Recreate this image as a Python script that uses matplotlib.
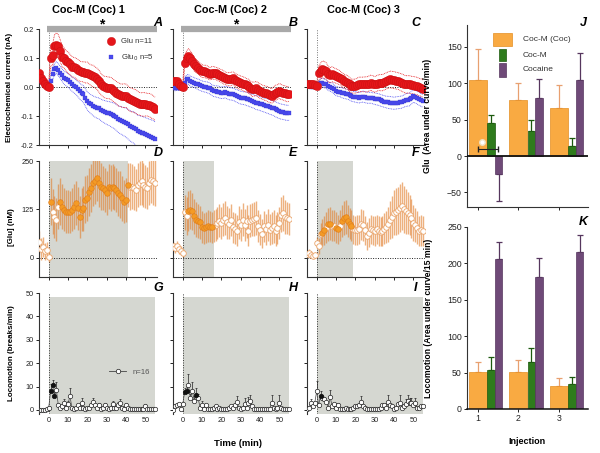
import numpy as np
import matplotlib
matplotlib.use('Agg')
import matplotlib.pyplot as plt
from matplotlib.patches import Rectangle
from matplotlib.lines import Line2D

plt.rcParams['font.family'] = ['Liberation Sans', 'DejaVu Sans']
plt.rcParams['axes.linewidth'] = 0.8
plt.rcParams['xtick.major.size'] = 2.2
plt.rcParams['ytick.major.size'] = 2.2
plt.rcParams['xtick.major.width'] = 0.7
plt.rcParams['ytick.major.width'] = 0.7

# ---------------- data ----------------
time = np.arange(-5, 56)

ec_titles = ['Coc-M (Coc) 1', 'Coc-M (Coc) 2', 'Coc-M (Coc) 3']

glu_A = [0.050, 0.032, 0.020, 0.012, 0.005,
         0.000, 0.100, 0.110, 0.140, 0.145, 0.140, 0.125, 0.105, 0.100, 0.090,
         0.085, 0.078, 0.070, 0.068, 0.065, 0.060, 0.055, 0.053, 0.052, 0.050,
         0.050, 0.045, 0.040, 0.038, 0.033, 0.028, 0.020, 0.010, 0.003, 0.000,
         -0.002, -0.003, -0.004, -0.010, -0.014, -0.020, -0.025, -0.028, -0.030, -0.030,
         -0.030, -0.037, -0.043, -0.045, -0.047, -0.050, -0.055, -0.058, -0.060, -0.060,
         -0.060, -0.061, -0.062, -0.066, -0.070, -0.075]
glu_A_err = [0.012, 0.010, 0.010, 0.010, 0.010,
             0.010, 0.030, 0.035, 0.040, 0.042, 0.040, 0.038, 0.036, 0.035, 0.035,
             0.036, 0.035, 0.035, 0.034, 0.035, 0.036, 0.035, 0.034, 0.035, 0.036,
             0.036, 0.035, 0.036, 0.037, 0.036, 0.037, 0.038, 0.037, 0.036, 0.037,
             0.038, 0.037, 0.038, 0.039, 0.038, 0.039, 0.040, 0.039, 0.040, 0.041,
             0.040, 0.041, 0.040, 0.041, 0.040, 0.041, 0.040, 0.039, 0.040, 0.041,
             0.040, 0.039, 0.040, 0.041, 0.040, 0.040]
glu0_A = [0.026, 0.020, 0.015, 0.010, 0.005,
          0.000, 0.020, 0.044, 0.061, 0.067, 0.060, 0.050, 0.040, 0.032, 0.027,
          0.023, 0.016, 0.010, 0.005, 0.000, -0.007, -0.014, -0.020, -0.025, -0.037,
          -0.048, -0.055, -0.060, -0.065, -0.069, -0.072, -0.074, -0.079, -0.083, -0.086,
          -0.089, -0.091, -0.094, -0.097, -0.100, -0.105, -0.111, -0.114, -0.117, -0.120,
          -0.123, -0.128, -0.134, -0.137, -0.140, -0.146, -0.152, -0.155, -0.157, -0.160,
          -0.163, -0.166, -0.169, -0.172, -0.175, -0.180]
glu0_A_err = [0.010, 0.010, 0.009, 0.008, 0.008,
              0.008, 0.015, 0.018, 0.020, 0.020, 0.021, 0.021, 0.022, 0.022, 0.023,
              0.023, 0.024, 0.024, 0.025, 0.025, 0.026, 0.027, 0.028, 0.029, 0.030,
              0.031, 0.032, 0.033, 0.034, 0.035, 0.036, 0.036, 0.037, 0.038, 0.039,
              0.040, 0.041, 0.042, 0.043, 0.044, 0.045, 0.046, 0.047, 0.048, 0.049,
              0.050, 0.051, 0.052, 0.053, 0.054, 0.055, 0.055, 0.056, 0.056, 0.057,
              0.057, 0.058, 0.058, 0.059, 0.059, 0.060]

glu_B = [0.020, 0.020, 0.020, 0.010, 0.003,
         0.000, 0.084, 0.100, 0.107, 0.100, 0.090, 0.078, 0.072, 0.067, 0.060,
         0.055, 0.054, 0.053, 0.050, 0.046, 0.048, 0.049, 0.047, 0.044, 0.041,
         0.038, 0.034, 0.030, 0.028, 0.026, 0.028, 0.030, 0.025, 0.020, 0.017,
         0.015, 0.012, 0.009, 0.006, 0.003, -0.003, -0.008, -0.007, -0.005, -0.010,
         -0.014, -0.017, -0.020, -0.022, -0.025, -0.028, -0.031, -0.025, -0.020, -0.017,
         -0.014, -0.017, -0.020, -0.022, -0.025, -0.023]
glu_B_err = [0.010, 0.010, 0.010, 0.010, 0.010,
             0.010, 0.020, 0.024, 0.025, 0.025, 0.024, 0.023, 0.022, 0.022, 0.022,
             0.022, 0.021, 0.022, 0.022, 0.021, 0.022, 0.022, 0.021, 0.022, 0.022,
             0.022, 0.023, 0.022, 0.022, 0.023, 0.023, 0.022, 0.023, 0.023, 0.024,
             0.023, 0.024, 0.024, 0.023, 0.024, 0.024, 0.025, 0.024, 0.024, 0.025,
             0.025, 0.024, 0.025, 0.025, 0.026, 0.025, 0.025, 0.026, 0.026, 0.025,
             0.026, 0.026, 0.025, 0.026, 0.026, 0.026]
glu0_B = [-0.005, -0.005, -0.004, -0.004, -0.004,
          -0.003, 0.015, 0.026, 0.026, 0.020, 0.018, 0.015, 0.012, 0.009, 0.006,
          0.003, 0.001, 0.000, -0.002, -0.005, -0.010, -0.014, -0.015, -0.016, -0.018,
          -0.020, -0.019, -0.018, -0.020, -0.023, -0.024, -0.025, -0.028, -0.031, -0.034,
          -0.037, -0.038, -0.039, -0.041, -0.043, -0.046, -0.048, -0.051, -0.054, -0.055,
          -0.057, -0.060, -0.062, -0.064, -0.066, -0.069, -0.071, -0.074, -0.077, -0.080,
          -0.083, -0.085, -0.086, -0.088, -0.089, -0.089]
glu0_B_err = [0.008, 0.008, 0.008, 0.008, 0.008,
              0.008, 0.014, 0.016, 0.017, 0.017, 0.017, 0.017, 0.017, 0.018, 0.018,
              0.018, 0.018, 0.018, 0.019, 0.019, 0.019, 0.019, 0.019, 0.020, 0.020,
              0.020, 0.020, 0.020, 0.021, 0.021, 0.021, 0.021, 0.021, 0.022, 0.022,
              0.022, 0.022, 0.022, 0.023, 0.023, 0.023, 0.023, 0.023, 0.024, 0.024,
              0.024, 0.024, 0.024, 0.025, 0.025, 0.025, 0.025, 0.025, 0.026, 0.026,
              0.026, 0.026, 0.026, 0.026, 0.026, 0.026]

glu_C = [0.009, 0.010, 0.009, 0.010, 0.008,
         0.003, 0.047, 0.055, 0.061, 0.059, 0.055, 0.044, 0.041, 0.044, 0.041,
         0.038, 0.035, 0.032, 0.026, 0.021, 0.018, 0.015, 0.009, 0.003, 0.003,
         0.003, 0.006, 0.009, 0.009, 0.009, 0.009, 0.009, 0.012, 0.015, 0.012,
         0.009, 0.012, 0.015, 0.015, 0.015, 0.018, 0.021, 0.024, 0.026, 0.025,
         0.024, 0.022, 0.021, 0.018, 0.015, 0.012, 0.009, 0.009, 0.009, 0.007,
         0.006, 0.005, 0.003, 0.000, -0.002, -0.006]
glu_C_err = [0.008, 0.008, 0.008, 0.008, 0.008,
             0.008, 0.024, 0.027, 0.029, 0.029, 0.028, 0.027, 0.026, 0.026, 0.025,
             0.025, 0.025, 0.024, 0.024, 0.024, 0.024, 0.024, 0.024, 0.024, 0.024,
             0.024, 0.025, 0.025, 0.025, 0.025, 0.026, 0.026, 0.026, 0.026, 0.027,
             0.027, 0.027, 0.027, 0.028, 0.028, 0.028, 0.028, 0.028, 0.029, 0.029,
             0.029, 0.029, 0.029, 0.029, 0.030, 0.030, 0.030, 0.030, 0.030, 0.030,
             0.030, 0.030, 0.030, 0.030, 0.030, 0.030]
glu0_C = [0.002, 0.002, 0.001, 0.001, 0.000,
          0.000, 0.009, 0.015, 0.015, 0.012, 0.009, 0.003, 0.000, -0.002, -0.008,
          -0.014, -0.016, -0.017, -0.020, -0.022, -0.024, -0.025, -0.028, -0.031, -0.033,
          -0.034, -0.036, -0.037, -0.035, -0.033, -0.035, -0.037, -0.037, -0.037, -0.039,
          -0.040, -0.042, -0.043, -0.046, -0.048, -0.050, -0.052, -0.053, -0.054, -0.055,
          -0.056, -0.055, -0.054, -0.053, -0.052, -0.049, -0.045, -0.044, -0.043, -0.037,
          -0.031, -0.033, -0.037, -0.041, -0.045, -0.048]
glu0_C_err = [0.006, 0.006, 0.006, 0.006, 0.006,
              0.006, 0.012, 0.014, 0.015, 0.015, 0.015, 0.015, 0.015, 0.016, 0.016,
              0.016, 0.016, 0.016, 0.017, 0.017, 0.017, 0.017, 0.017, 0.018, 0.018,
              0.018, 0.018, 0.018, 0.018, 0.019, 0.019, 0.019, 0.019, 0.019, 0.019,
              0.020, 0.020, 0.020, 0.020, 0.020, 0.020, 0.020, 0.021, 0.021, 0.021,
              0.021, 0.021, 0.021, 0.021, 0.021, 0.021, 0.022, 0.022, 0.022, 0.022,
              0.022, 0.022, 0.022, 0.022, 0.022, 0.022]

conc_D = [40, 22, 28, 16, 20,
          2, 145, 119, 105, 98, 132, 145, 132, 124, 119,
          119, 119, 124, 132, 141, 128, 105, 124, 128, 150,
          154, 171, 180, 193, 197, 206, 193, 184, 180, 175,
          167, 184, 180, 184, 180, 175, 167, 163, 154, 145,
          150, 188, 184, 184, 180, 175, 188, 193, 197, 188,
          184, 180, 193, 201, 197, 193]
conc_D_err = [30, 28, 25, 22, 20,
              12, 60, 58, 55, 56, 58, 60, 58, 56, 55,
              55, 54, 56, 58, 57, 56, 55, 56, 58, 60,
              60, 62, 62, 60, 58, 60, 62, 60, 58, 57,
              56, 58, 60, 58, 57, 56, 58, 60, 58, 56,
              57, 58, 60, 58, 56, 55, 56, 58, 60, 58,
              56, 55, 58, 60, 62, 60]
conc_D_sig = [0, 0, 0, 0, 0,
              0, 1, 0, 0, 0, 0, 1, 1, 1, 1,
              1, 1, 1, 1, 1, 1, 1, 1, 1, 1,
              1, 1, 1, 1, 1, 1, 1, 1, 1, 1,
              1, 1, 1, 1, 1, 1, 1, 1, 1, 1,
              1, 1, 0, 0, 0, 0, 0, 0, 0, 0,
              0, 0, 0, 0, 0, 0]

conc_E = [29, 25, 31, 22, 18,
          12, 117, 108, 120, 124, 120, 107, 98, 95, 91,
          79, 76, 79, 82, 80, 79, 82, 85, 90, 96,
          89, 98, 102, 91, 88, 98, 79, 75, 70, 91,
          85, 98, 84, 94, 70, 96, 98, 100, 102, 82,
          72, 62, 81, 74, 85, 72, 76, 81, 70, 76,
          89, 111, 115, 105, 102, 100]
conc_E_err = [14, 14, 13, 12, 12,
              10, 45, 50, 52, 50, 48, 46, 45, 44, 43,
              42, 40, 40, 41, 40, 40, 41, 42, 42, 43,
              42, 43, 44, 42, 41, 42, 40, 40, 40, 42,
              42, 43, 42, 43, 40, 42, 43, 44, 44, 42,
              40, 38, 40, 40, 42, 40, 41, 42, 40, 41,
              42, 45, 46, 44, 42, 42]
conc_E_sig = [0, 0, 0, 0, 0,
              0, 0, 0, 1, 1, 1, 1, 1, 1, 1,
              1, 1, 1, 1, 1, 1, 0, 0, 0, 0,
              0, 0, 0, 0, 0, 0, 0, 0, 0, 0,
              0, 0, 0, 0, 0, 0, 0, 0, 0, 0,
              0, 0, 0, 0, 0, 0, 0, 0, 0, 0,
              0, 0, 0, 0, 0, 0]

conc_F = [9, 13, 8, 4, 6,
          39, 30, 60, 65, 71, 78, 86, 88, 82, 82,
          78, 73, 82, 95, 103, 105, 95, 88, 82, 73,
          71, 72, 73, 86, 84, 71, 56, 65, 73, 71,
          69, 73, 69, 67, 69, 75, 79, 86, 97, 105,
          116, 119, 122, 129, 134, 125, 120, 116, 110, 102,
          90, 84, 78, 69, 71, 69]
conc_F_err = [10, 10, 9, 8, 8,
              14, 20, 30, 36, 38, 40, 42, 42, 40, 40,
              40, 38, 40, 42, 44, 44, 42, 40, 40, 38,
              38, 38, 38, 40, 40, 38, 36, 38, 38, 38,
              38, 38, 38, 37, 38, 40, 42, 45, 50, 55,
              58, 60, 60, 62, 62, 60, 58, 55, 52, 50,
              46, 44, 42, 40, 40, 40]
conc_F_sig = [0, 0, 0, 0, 0,
              0, 0, 0, 1, 1, 0, 1, 1, 0, 0,
              1, 1, 0, 1, 1, 1, 1, 1, 1, 0,
              0, 0, 0, 0, 0, 0, 0, 0, 0, 0,
              0, 0, 0, 0, 0, 0, 0, 0, 0, 0,
              0, 0, 0, 0, 0, 0, 0, 0, 0, 0,
              0, 0, 0, 0, 0, 0]
shade_end = [41, 16, 19]

loco_G = [0, 0, 0, 0, 0.3,
          1, 8, 10.5, 6, 8.5, 2, 1, 1.5, 3, 1,
          2.5, 6, 1, 0.5, 1, 2, 1, 3, 1, 0.5,
          1, 1, 2, 3.5, 2, 1, 2, 0.5, 1, 2,
          1, 0.5, 1, 2.5, 1, 1, 2, 3, 1, 0.5,
          2, 1, 0.5, 0.5, 0.5, 0.5, 0.5, 0.3, 0.3, 0.5,
          1.5, 0.5, 0.5, 0.5, 0.5, 0.5]
loco_G_err = [0, 0, 0, 0, 0,
              0.5, 3, 2.5, 2, 3.5, 1, 0, 0.5, 1.5, 0,
              1.5, 3.5, 0, 0, 0, 0.5, 0, 2, 0, 0,
              0, 0, 0.5, 1.5, 0.5, 0, 1, 0, 0, 1,
              0, 0, 0, 1.5, 0, 0, 1.5, 1.5, 0, 0,
              1, 0, 0, 0, 0, 0, 0, 0, 0, 0,
              1, 0, 0, 0, 0, 0]
loco_G_sig = [0, 0, 0, 0, 0,
              0, 1, 1, 1, 0, 0, 0, 0, 0, 0,
              0, 0, 0, 0, 0, 0, 0, 0, 0, 0,
              0, 0, 0, 0, 0, 0, 0, 0, 0, 0,
              0, 0, 0, 0, 0, 0, 0, 0, 0, 0,
              0, 0, 0, 0, 0, 0, 0, 0, 0, 0,
              0, 0, 0, 0, 0, 0]

loco_H = [0, 1.5, 2, 2.5, 0.5,
          2.5, 7.5, 8, 10.5, 5, 8, 4, 6.5, 5, 1,
          2, 0.5, 2, 0.5, 0.5, 0.5, 1, 1.5, 0.5, 1,
          0.5, 0.5, 0.5, 0.5, 1, 1.5, 1, 2, 3.5, 1,
          0.5, 1, 2.5, 1, 3, 4, 1.5, 0.5, 0.5, 0.5,
          0.5, 0.5, 0.5, 0.5, 0.5, 0.5, 3, 1, 0.5, 1,
          3, 1, 0.5, 0.5, 0.5, 0.5]
loco_H_err = [0, 0, 0.5, 0.5, 0,
              0.5, 2, 2, 5, 2, 4, 2, 3, 2, 0,
              2, 0, 0.5, 0, 0, 0, 0, 0.5, 0, 0,
              0, 0, 0, 0, 0, 0.5, 0, 0.5, 2.5, 0,
              0, 0, 2.5, 0, 2.5, 2.5, 0.5, 0, 0, 0,
              0, 0, 0, 0, 0, 0, 3.5, 0, 0, 0,
              3.5, 0, 0, 0, 0, 0]
loco_H_sig = [0, 0, 0, 0, 0,
              0, 1, 1, 0, 0, 0, 0, 1, 0, 0,
              0, 0, 0, 0, 0, 0, 0, 0, 0, 0,
              0, 0, 0, 0, 0, 0, 0, 0, 0, 0,
              0, 0, 0, 0, 0, 0, 0, 0, 0, 0,
              0, 0, 0, 0, 0, 0, 0, 0, 0, 0,
              0, 0, 0, 0, 0, 0]

loco_I = [0.5, 1, 3, 1.5, 3,
          8, 2, 6, 5, 4.5, 3.5, 1, 5.5, 1.5, 2.5,
          1, 2, 0.5, 0.5, 0.5, 1, 0.5, 0.5, 0.5, 1,
          1.5, 1.5, 2, 3.5, 1.5, 1, 0.5, 0.5, 0.5, 0.5,
          0.5, 0.5, 0.5, 1, 2, 2, 1, 3.5, 2, 1.5,
          0.5, 1, 2.5, 3, 1, 1.5, 2.5, 4, 3, 3,
          2, 3, 1, 1, 1.5, 1.5]
loco_I_err = [0, 0, 1.5, 0, 0.5,
              4.5, 0.5, 2, 1.5, 1, 0.5, 0, 3, 0, 0.5,
              0, 1, 0, 0, 0, 0, 0, 0, 0, 0,
              0.5, 0.5, 0.5, 2.5, 0, 0, 0, 0, 0, 0,
              0, 0, 0, 0, 0.5, 0.5, 0, 3, 0.5, 0,
              0, 0, 1, 3.5, 0, 0.5, 2, 2.5, 2, 2,
              0.5, 2, 0, 0, 0.5, 0.5]
loco_I_sig = [0, 0, 0, 0, 0,
              0, 0, 1, 0, 0, 0, 0, 0, 0, 0,
              0, 0, 0, 0, 0, 0, 0, 0, 0, 0,
              0, 0, 0, 0, 0, 0, 0, 0, 0, 0,
              0, 0, 0, 0, 0, 0, 0, 0, 0, 0,
              0, 0, 0, 0, 0, 0, 0, 0, 0, 0,
              0, 0, 0, 0, 0, 0]

injection = [1, 2, 3]
bar_labels = ['Coc-M (Coc)', 'Coc-M', 'Cocaine']
auc_glu_cocm_coc = [104, 77, 66]
auc_glu_cocm_coc_err = [43, 24, 31]
auc_glu_cocm = [45, 34, 14]
auc_glu_cocm_err = [11, 15, 11]
auc_glu_coc = [-25, 80, 104]
auc_glu_coc_err = [37, 26, 38]
auc_loco_cocm_coc = [51, 51, 32]
auc_loco_cocm_coc_err = [14, 16, 11]
auc_loco_cocm = [53, 65, 35]
auc_loco_cocm_err = [19, 19, 9]
auc_loco_coc = [206, 182, 216]
auc_loco_coc_err = [23, 26, 23]

# ---------------- styling ----------------
W, H = 600, 453
RED, RED_E = '#e5161a', '#c80f12'
BLUE = '#4a4af0'
ORANGE, ORANGE_E = '#f49b25', '#e08020'
ERR_OR = '#e27d2a'
SHADE = '#d5d7d1'
BAR_OR, BAR_OR_E = '#f9aa42', '#e58f22'
BAR_GR, BAR_GR_E = '#2e7b1c', '#1c5a0e'
BAR_PU, BAR_PU_E = '#6f4a78', '#56365e'
TICK_FS = 5.3


def rect(l, t, r, b):
    return [l / W, 1 - b / H, (r - l) / W, (b - t) / H]


fig = plt.figure(figsize=(6, 4.53), dpi=100)

col_left = [39, 173, 307]
col_w = 118
rows = [(29, 145), (161, 277), (293, 413.5)]
letter_x = [158, 293, 416]


def style(ax):
    for s in ['top', 'right']:
        ax.spines[s].set_visible(False)
    ax.tick_params(labelsize=TICK_FS, pad=1.5, colors='#222')
    ax.spines['left'].set_color('#333')
    ax.spines['bottom'].set_color('#333')


ec_sets = [(glu_A, glu_A_err, glu0_A, glu0_A_err),
           (glu_B, glu_B_err, glu0_B, glu0_B_err),
           (glu_C, glu_C_err, glu0_C, glu0_C_err)]
conc_sets = [(conc_D, conc_D_err, conc_D_sig),
             (conc_E, conc_E_err, conc_E_sig),
             (conc_F, conc_F_err, conc_F_sig)]
loco_sets = [(loco_G, loco_G_err, loco_G_sig),
             (loco_H, loco_H_err, loco_H_sig),
             (loco_I, loco_I_err, loco_I_sig)]
letters = [['A', 'B', 'C'], ['D', 'E', 'F'], ['G', 'H', 'I']]
title_x = [88, 230, 363]

for c in range(3):
    l = col_left[c]
    # ---- electrochemical current ----
    ax = fig.add_axes(rect(l, rows[0][0], l + col_w, rows[0][1]))
    style(ax)
    g, ge, g0, g0e = [np.array(v) for v in ec_sets[c]]
    ax.axhline(0, color='#222', ls=(0, (1, 1.5)), lw=0.7, zorder=1)
    ax.axvline(0, color='#777', ls=(0, (1, 1.5)), lw=0.7, zorder=1)
    ax.plot(time, g0 + g0e, ls=(0, (1, 1)), color=BLUE, lw=0.6, zorder=2)
    ax.plot(time, g0 - g0e, ls=(0, (1, 1)), color=BLUE, lw=0.6, zorder=2)
    ax.plot(time, g + ge, ls=(0, (1, 1)), color=RED, lw=0.6, zorder=2)
    ax.plot(time, g - ge, ls=(0, (1, 1)), color=RED, lw=0.6, zorder=2)
    ax.plot(time, g0, 's', color=BLUE, ms=2.9, mew=0.2, mec='#3030c0', zorder=3,
            label='Glu$_0$ n=5')
    ax.plot(time, g, 'o', color=RED, ms=6.0, mew=0.3, mec=RED_E, zorder=4,
            label='Glu n=11')
    ax.set_xlim(-5, 56)
    ax.set_ylim(-0.2, 0.2)
    ax.set_xticks([0, 10, 20, 30, 40, 50])
    ax.set_xticklabels([])
    ax.set_yticks([-0.2, -0.1, 0.0, 0.1, 0.2])
    if c == 0:
        ax.set_yticklabels(['-0.2', '-0.1', '0.0', '0.1', '0.2'])
        ax.set_ylabel('Electrochemical current (nA)', fontsize=5.8,
                      fontweight='bold')
        ax.yaxis.set_label_coords(-0.22, 0.5)
        h, lb = ax.get_legend_handles_labels()
        ax.legend(h[::-1], lb[::-1], loc='upper right', bbox_to_anchor=(1.0, 0.95),
                  frameon=False, fontsize=5.6, handlelength=1.0,
                  handletextpad=0.8, labelspacing=0.9, borderaxespad=0,
                  labelcolor='#333')
    else:
        ax.set_yticklabels([])
    if c < 2:
        ax.plot([-1, 56], [0.2, 0.2], color='#a9a9a9', lw=4.5,
                solid_capstyle='butt', clip_on=False, zorder=5)
        ax.text(27.5, 0.203, '*', ha='center', va='baseline', fontsize=10,
                fontweight='bold')
    fig.text(title_x[c] / W, 1 - 10 / H, ec_titles[c], ha='center', va='center',
             fontsize=7.8, fontweight='bold')

    # ---- glutamate concentration ----
    ax = fig.add_axes(rect(l, rows[1][0], l + col_w, rows[1][1]))
    style(ax)
    v, e, sg = [np.array(a) for a in conc_sets[c]]
    ax.axvspan(0, shade_end[c], color=SHADE, lw=0, zorder=0)
    ax.axhline(0, color='#222', ls=(0, (1, 1.5)), lw=0.7, zorder=1)
    ax.axvline(0, color='#333', ls=(0, (1, 1.5)), lw=0.7, zorder=1)
    ax.errorbar(time, v, yerr=e, fmt='none', ecolor=ERR_OR, alpha=0.6,
                elinewidth=1.0, capsize=0, zorder=2)
    m = sg == 1
    ax.plot(time[~m], v[~m], 'o', mfc='white', mec='#eaa46a', mew=0.6, ms=4.0,
            zorder=3)
    ax.plot(time[m], v[m], 'o', mfc=ORANGE, mec=ORANGE_E, mew=0.5, ms=4.0,
            zorder=4)
    ax.set_xlim(-5, 56)
    ax.set_ylim(-50, 250)
    ax.set_xticks([0, 10, 20, 30, 40, 50])
    ax.set_xticklabels([])
    ax.set_yticks([0, 125, 250])
    if c == 0:
        ax.set_ylabel('[Glu] (nM)', fontsize=5.8, fontweight='bold')
        ax.yaxis.set_label_coords(-0.2, 0.43)
    else:
        ax.set_yticklabels([])

    # ---- locomotion ----
    ax = fig.add_axes(rect(l, rows[2][0], l + col_w, rows[2][1]))
    style(ax)
    v, e, sg = [np.array(a) for a in loco_sets[c]]
    ax.axvspan(0, 55, ymin=0, ymax=50 / 51.5, color=SHADE, lw=0, zorder=0)
    ax.axvline(0, color='#333', ls=(0, (1, 1.5)), lw=0.7, zorder=1)
    ax.errorbar(time, v, yerr=[np.zeros_like(e), e], fmt='none', ecolor='#222',
                elinewidth=0.5, capsize=1.0, capthick=0.5, zorder=2)
    ax.plot(time, v, '-', color='#444', lw=0.5, zorder=2)
    m = sg == 1
    ax.plot(time[~m], v[~m], 'o', mfc='white', mec='#222', mew=0.5, ms=3.2,
            zorder=3, label='n=16')
    ax.plot(time[m], v[m], 'o', mfc='#111', mec='#111', mew=0.5, ms=3.2, zorder=4)
    ax.set_xlim(-5, 56)
    ax.set_ylim(-1.5, 50)
    ax.spines['bottom'].set_visible(False)
    ax.set_xticks([0, 10, 20, 30, 40, 50])
    ax.tick_params(axis='x', length=0, pad=2.5)
    ax.set_yticks([0, 10, 20, 30, 40, 50])
    if c == 0:
        ax.set_ylabel('Locomotion (breaks/min)', fontsize=5.8, fontweight='bold')
        ax.yaxis.set_label_coords(-0.2, 0.5)
        hnd = Line2D([], [], color='#444', lw=0.6, marker='o', mfc='white',
                     mec='#222', ms=3.2, mew=0.5)
        ax.legend([hnd], ['n=16'], loc='center left', bbox_to_anchor=(0.57, 0.345),
                  frameon=False, fontsize=5.6, handlelength=2.2,
                  handletextpad=0.8, borderaxespad=0, labelcolor='#555')
    else:
        ax.set_yticklabels([])

    for r in range(3):
        fig.text(letter_x[c] / W, 1 - [23, 153, 288][r] / H, letters[r][c],
                 ha='center', va='center', fontsize=9, fontweight='bold',
                 style='italic')

fig.text(238 / W, 1 - 443 / H, 'Time (min)', ha='center', va='center',
         fontsize=6.8, fontweight='bold')

# ---------------- bar panels ----------------
x = np.array(injection, dtype=float)
off_g, off_p = 0.32, 0.51
w_o, w_g, w_p = 0.44, 0.19, 0.18


def bars(ax, vo, eo, vg, eg, vp, ep):
    for xs, vals, errs, w, fc, ec_, errc in [
            (x, vo, eo, w_o, BAR_OR, BAR_OR_E, '#e8a070'),
            (x + off_g, vg, eg, w_g, BAR_GR, BAR_GR_E, BAR_GR_E),
            (x + off_p, vp, ep, w_p, BAR_PU, BAR_PU_E, BAR_PU_E)]:
        vals = np.array(vals, dtype=float)
        errs = np.array(errs, dtype=float)
        ax.bar(xs, vals, width=w, color=fc, edgecolor=ec_, lw=0.5, zorder=2)
        lo = np.where(vals < 0, errs, 0)
        hi = np.where(vals >= 0, errs, 0)
        ax.errorbar(xs, vals, yerr=[lo, hi], fmt='none', ecolor=errc,
                    elinewidth=0.9, capsize=2.2, capthick=0.9, zorder=1)


# J
axJ = fig.add_axes(rect(467, 25, 588, 207))
style(axJ)
bars(axJ, auc_glu_cocm_coc, auc_glu_cocm_coc_err, auc_glu_cocm, auc_glu_cocm_err,
     auc_glu_coc, auc_glu_coc_err)
axJ.axhline(0, color='#111', lw=1.3, zorder=3)
axJ.errorbar([1.25], [10], xerr=[0.25], fmt='none', ecolor='#222',
             elinewidth=0.8, capsize=2, zorder=4)
axJ.plot([1.1], [19], 'o', mfc='white', mec='#f0e0c0', ms=4, zorder=5)
axJ.set_xlim(0.73, 3.72)
axJ.set_ylim(-70, 180)
axJ.set_yticks([-50, 0, 50, 100, 150])
axJ.set_xticks(injection)
axJ.set_xticklabels([])
axJ.tick_params(labelsize=6.3)
axJ.set_ylabel('Glu  (Area under curve/min)', fontsize=6.2, fontweight='bold')
axJ.yaxis.set_label_coords(-0.29, 0.5)
for (x0, x1, y0, y1), fc, ec_, lab, ty in [
        ((0.215, 0.372, 0.885, 0.956), BAR_OR, BAR_OR_E, bar_labels[0], 0.918),
        ((0.262, 0.322, 0.802, 0.868), BAR_GR, BAR_GR_E, bar_labels[1], 0.835),
        ((0.262, 0.322, 0.714, 0.791), BAR_PU, BAR_PU_E, bar_labels[2], 0.753)]:
    axJ.add_patch(Rectangle((x0, y0), x1 - x0, y1 - y0, transform=axJ.transAxes,
                            facecolor=fc, edgecolor=ec_, lw=0.5, zorder=6))
    axJ.text(0.463, ty, lab, transform=axJ.transAxes, fontsize=6.0, va='center',
             ha='left', color='#333')
fig.text(583 / W, 1 - 23 / H, 'J', ha='center', va='center', fontsize=9,
         fontweight='bold', style='italic')

# K
axK = fig.add_axes(rect(467, 227, 588, 409))
style(axK)
bars(axK, auc_loco_cocm_coc, auc_loco_cocm_coc_err, auc_loco_cocm,
     auc_loco_cocm_err, auc_loco_coc, auc_loco_coc_err)
axK.set_xlim(0.73, 3.72)
axK.set_ylim(0, 250)
axK.set_yticks([0, 50, 100, 150, 200, 250])
axK.set_xticks(injection)
axK.set_xticklabels([str(i) for i in injection])
axK.tick_params(labelsize=6.3)
axK.spines['bottom'].set_color('#111')
axK.spines['bottom'].set_linewidth(1.1)
axK.set_ylabel('Locomotion (Area under curve/15 min)', fontsize=6.2,
               fontweight='bold')
axK.yaxis.set_label_coords(-0.28, 0.5)
fig.text(527 / W, 1 - 442 / H, 'Injection', ha='center', va='center',
         fontsize=6.5, fontweight='bold')
fig.text(583 / W, 1 - 222 / H, 'K', ha='center', va='center', fontsize=9,
         fontweight='bold', style='italic')

fig.savefig('out.png', dpi=100)
